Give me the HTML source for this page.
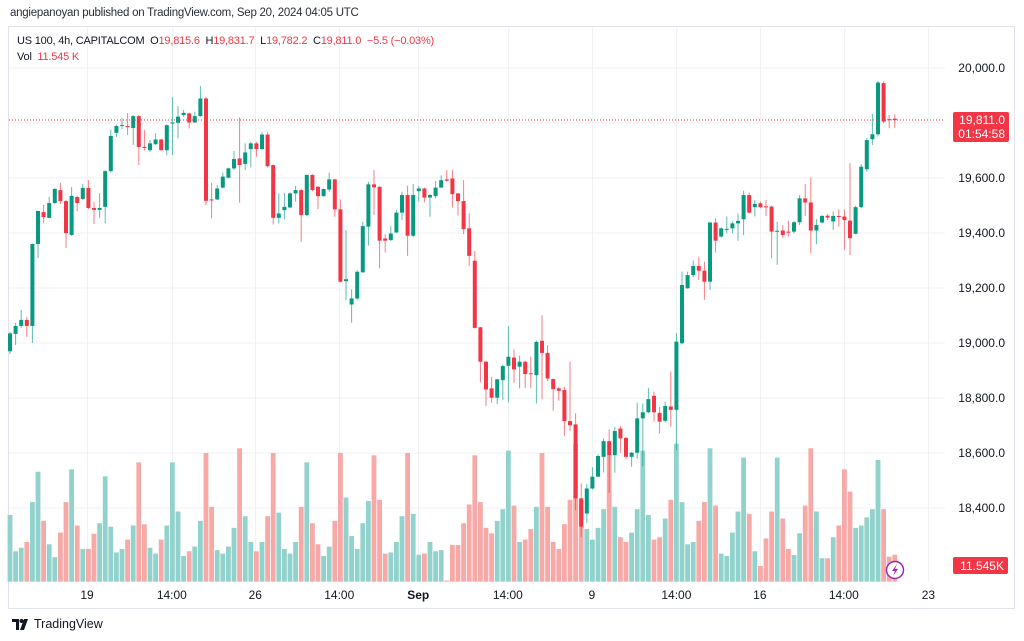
<!DOCTYPE html>
<html><head><meta charset="utf-8">
<style>
html,body{margin:0;padding:0;background:#fff;}
body{width:1024px;height:641px;overflow:hidden;position:relative;font-family:"Liberation Sans",sans-serif;}
#hdr{position:absolute;left:10px;top:7px;font-size:11.5px;letter-spacing:-0.25px;color:#2a2e39;}
#legend{position:absolute;left:17px;top:33px;font-size:11px;letter-spacing:-0.2px;color:#131722;line-height:16px;}
#legend .r{color:#f23645;}
#logo{position:absolute;left:12px;top:617px;font-size:12.5px;color:#131722;display:flex;align-items:center;gap:4px;}
svg{position:absolute;left:0;top:0;}
</style></head>
<body>
<div id="hdr">angiepanoyan published on TradingView.com, Sep 20, 2024 04:05 UTC</div>
<svg id="chart" width="1024" height="641"></svg>
<div id="legend">
<div>US 100, 4h, CAPITALCOM&nbsp; O<span class="r">19,815.6</span>&nbsp; H<span class="r">19,831.7</span>&nbsp; L<span class="r">19,782.2</span>&nbsp; C<span class="r">19,811.0</span>&nbsp; <span class="r">−5.5 (−0.03%)</span></div>
<div>Vol&nbsp; <span class="r">11.545 K</span></div>
</div>
<div id="logo"><svg width="18" height="11" style="position:static" viewBox="0 0 18 11"><path d="M0 0h7v11H4V3H0z M8 11l4-11h4l-4 11z" fill="#131722"/><circle cx="9.5" cy="2" r="2" fill="#131722"/></svg><span>TradingView</span></div>
<script>
const opens=[18970,19033,19062,19084,19062,19360,19476,19455,19509,19556,19516,19393,19531,19524,19564,19491,19484,19495,19625,19764,19790,19789,19782,19825,19713,19701,19723,19740,19701,19798,19801,19829,19835,19802,19825,19889,19522,19522,19565,19601,19635,19671,19651,19705,19726,19705,19758,19647,19455,19483,19493,19544,19556,19465,19611,19568,19534,19558,19595,19486,19225,19140,19162,19257,19423,19577,19568,19380,19374,19402,19474,19538,19390,19552,19562,19529,19534,19565,19595,19598,19544,19516,19417,19299,19057,18932,18835,18801,18865,18917,18947,18914,18932,18890,18883,19008,18964,18869,18835,18829,18716,18704,18435,18380,18471,18514,18586,18643,18592,18689,18655,18586,18601,18726,18748,18808,18746,18717,18769,18757,18999,19199,19247,19280,19263,19223,19438,19387,19413,19417,19435,19450,19538,19494,19508,19497,19496,19406,19409,19405,19405,19439,19526,19511,19409,19438,19463,19442,19462,19460,19445,19397,19494,19632,19741,19759,19945,19814,19815.6];
const highs=[19040,19073,19120,19095,19362,19482,19502,19531,19564,19582,19520,19567,19535,19578,19593,19513,19545,19628,19775,19793,19818,19836,19829,19829,19775,19738,19762,19743,19795,19895,19861,19847,19838,19841,19934,19895,19583,19574,19619,19638,19698,19820,19726,19732,19732,19766,19766,19649,19544,19546,19548,19571,19561,19613,19614,19571,19562,19619,19597,19522,19411,19195,19265,19441,19586,19629,19570,19395,19426,19483,19550,19572,19578,19571,19565,19542,19589,19610,19629,19629,19546,19592,19471,19335,19059,18935,18877,18870,18920,19061,18977,18954,18935,18950,19009,19101,18992,18871,18841,18841,18932,18744,18489,18487,18548,18595,18653,18686,18695,18698,18658,18604,18783,18780,18837,18823,18768,18787,18896,19036,19260,19260,19300,19314,19296,19440,19454,19420,19460,19442,19472,19554,19547,19520,19514,19520,19500,19441,19429,19445,19444,19538,19578,19602,19451,19466,19468,19478,19486,19486,19654,19499,19651,19745,19833,19953,19951,19829,19831.7];
const lows=[18960,18993,19055,19022,19000,19309,19436,19453,19505,19505,19345,19390,19480,19520,19487,19433,19455,19436,19620,19749,19778,19756,19720,19647,19700,19695,19720,19699,19683,19683,19744,19823,19780,19801,19823,19501,19453,19520,19562,19599,19629,19510,19629,19638,19677,19703,19638,19431,19435,19449,19491,19514,19368,19461,19552,19487,19532,19550,19459,19220,19156,19074,19156,19256,19354,19465,19271,19329,19372,19400,19447,19317,19385,19514,19511,19459,19526,19565,19586,19493,19463,19396,19281,19053,18857,18771,18783,18778,18792,18784,18855,18835,18836,18837,18780,18795,18862,18754,18790,18663,18681,18392,18295,18346,18467,18512,18529,18455,18528,18601,18577,18550,18580,18552,18745,18714,18671,18711,18696,18611,18995,19197,19239,19229,19157,19193,19329,19383,19399,19399,19372,19393,19470,19460,19490,19462,19308,19284,19381,19387,19398,19429,19462,19326,19359,19435,19447,19411,19423,19339,19320,19395,19490,19623,19720,19751,19800,19781,19782.2];
const closes=[19035,19062,19084,19062,19360,19480,19458,19509,19560,19516,19400,19535,19509,19564,19491,19484,19491,19625,19753,19789,19793,19785,19825,19713,19709,19726,19740,19701,19792,19802,19823,19837,19802,19825,19889,19517,19520,19562,19605,19635,19669,19647,19693,19726,19705,19758,19643,19455,19471,19495,19544,19556,19465,19611,19556,19534,19560,19595,19486,19223,19232,19162,19259,19425,19577,19566,19372,19372,19398,19474,19538,19390,19538,19562,19529,19538,19565,19592,19590,19541,19516,19414,19317,19055,18932,18831,18801,18868,18916,18950,18904,18932,18887,18887,19004,18964,18871,18832,18826,18716,18701,18435,18332,18471,18514,18589,18643,18592,18680,18653,18586,18601,18726,18748,18796,18748,18714,18771,18757,19005,19211,19247,19280,19263,19223,19438,19372,19417,19415,19435,19444,19538,19474,19506,19494,19496,19405,19408,19393,19403,19439,19526,19511,19409,19429,19462,19456,19462,19459,19447,19381,19494,19641,19738,19759,19947,19805,19811,19811.0];
const volumes=[28.5,13,14.5,17,34,47,26,16,10.5,21,34,48,24,14,14,20.5,25,45,23.5,12.5,14,18,24,51,24.5,14.5,12,18,24,51,30,11,13,15,26,55,32,13.5,12,15,23,57,28,17,13,17,28,55,29.5,14,12,17,32,51,25,16,11,15,26,55,36,19.5,14,25,34.5,54,35,12,12.5,17,28,55,29,11.5,12,17,13,13.5,0.5,15.7,15.7,25,33,54,34,23,20.7,26,31,56,32.5,17,18,22.5,32,55,32,17,14,24.6,35,59,35,22.5,18,23,31,54,32,19,17,21,31,56,28.5,18,19,27,35,59,34,16,17,26,34,57,32.5,12,11,21,30,53,29,13,6.7,18.5,30,53,27,14,11.4,20.7,32.5,57,30,10,10,19,24,48,38.5,23,24,27.5,31,52,31,10.7,11.545];
const priceTicks=[18400,18600,18800,19000,19200,19400,19600,19800,20000];
const timeLabels=["19","14:00","26","14:00","Sep","14:00","9","14:00","16","14:00","23"];
const timeLabelIdx=[13.75,28.9,43.8,58.8,72.9,88.9,103.9,119,133.9,148.9,164];
const lastPrice=19811.0;
const lastVol=11.545;

const NS="http://www.w3.org/2000/svg";
const svg=document.getElementById('chart');
const GREEN="#089981",RED="#f23645";
function yP(p){return 343-(p-19000)*0.275;}
function yV(v){return 581.7-v*2.34;}
function xI(i){return 10+5.6*i;}
function mk(tag,attrs,parent){const e=document.createElementNS(NS,tag);for(const k in attrs)e.setAttribute(k,attrs[k]);(parent||svg).appendChild(e);return e;}

const frame=mk('rect',{x:8.5,y:26.5,width:1006,height:582,fill:'none',stroke:'#e0e3eb'});


const grid=mk('g',{});


priceTicks.forEach(p=>{const l=mk('line',{x1:9,x2:945,y1:yP(p),y2:yP(p),stroke:'#f0f1f4','stroke-width':1},grid);

});
timeLabelIdx.forEach(t=>{const l=mk('line',{x1:Math.round(xI(t))+.5,x2:Math.round(xI(t))+.5,y1:27,y2:582,stroke:'#f0f1f4','stroke-width':1},grid);

});

const vg=mk('g',{});


volumes.forEach((v,i)=>{const up=closes[i]>=opens[i];
const r=mk('rect',{x:xI(i)-2.4,y:yV(v),width:4.8,height:581.7-yV(v),fill:up?'#92d2cc':'#f7a9a7'},vg);

});

const cg=mk('g',{});


opens.forEach((o,i)=>{const c=closes[i],up=c>=o,col=up?GREEN:RED,x=xI(i);
const w=mk('line',{x1:x,x2:x,y1:yP(highs[i]),y2:yP(lows[i]),stroke:col,'stroke-width':1,'stroke-opacity':0.65},cg);


const top=yP(Math.max(o,c)),bot=yP(Math.min(o,c));
const b=mk('rect',{x:x-2,y:top,width:4,height:Math.max(1,bot-top),fill:col},cg);

});

const pl=mk('line',{x1:9,x2:945,y1:yP(lastPrice),y2:yP(lastPrice),stroke:RED,'stroke-width':1,'stroke-dasharray':'1 2'});



const ax=mk('g',{'font-size':'12','fill':'#131722','text-anchor':'end','font-family':'Liberation Sans, sans-serif'});


priceTicks.forEach(p=>{if(p===19800)return;const t=mk('text',{x:1005,y:yP(p)+4},ax);t.textContent=p.toLocaleString('en-US',{minimumFractionDigits:1});

});

const tag=mk('g',{});


mk('rect',{x:953,y:yP(lastPrice)-8,width:56,height:30,rx:2,fill:RED},tag);
const t1=mk('text',{x:1005,y:yP(lastPrice)+4,'font-size':12,fill:'#fff','text-anchor':'end','font-family':'Liberation Sans, sans-serif'},tag);t1.textContent=lastPrice.toLocaleString('en-US',{minimumFractionDigits:1});


const t2=mk('text',{x:1005,y:yP(lastPrice)+18,'font-size':12,fill:'#fff','text-anchor':'end','font-family':'Liberation Sans, sans-serif'},tag);t2.textContent='01:54:58';



const vt=mk('g',{});


mk('rect',{x:953,y:557,width:55,height:17,rx:2,fill:RED},vt);
const vtx=mk('text',{x:1004,y:570,'font-size':12,fill:'#fff','text-anchor':'end','font-family':'Liberation Sans, sans-serif'},vt);vtx.textContent=lastVol.toFixed(3)+'K';



const tx=mk('g',{'font-size':'12','fill':'#131722','text-anchor':'middle','font-family':'Liberation Sans, sans-serif'});


timeLabels.forEach((s,k)=>{const t=mk('text',{x:xI(timeLabelIdx[k]),y:599,'font-weight':s==='Sep'?'bold':'normal'},tx);t.textContent=s;

});

const li=mk('g',{});


mk('circle',{cx:895,cy:570,r:8.5,fill:'#fff',stroke:'#9c27b0','stroke-width':1.5},li);
mk('path',{d:'M897 564 L892 571 L895 571 L893 576 L898 569 L895 569 Z',fill:'#9c27b0'},li);
</script>
</body></html>
